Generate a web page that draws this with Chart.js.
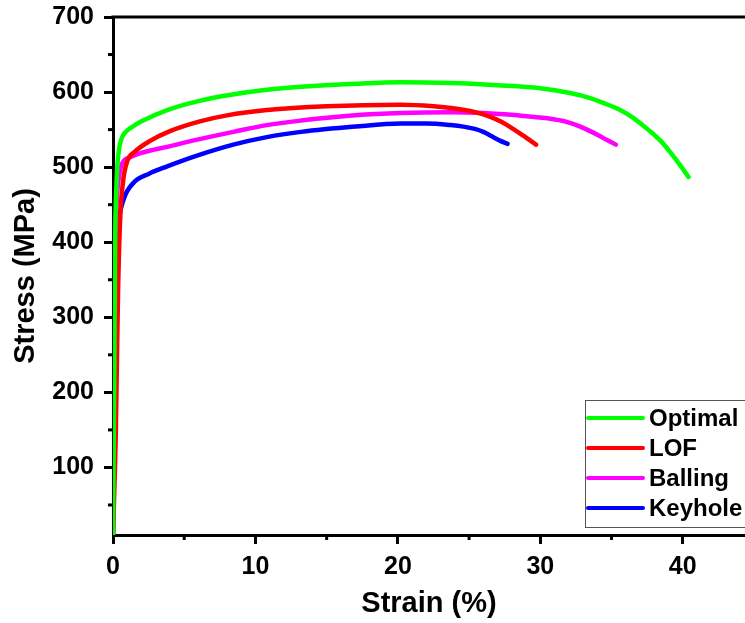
<!DOCTYPE html>
<html>
<head>
<meta charset="utf-8">
<title>Stress-strain curves</title>
<script src="https://cdn.jsdelivr.net/npm/chart.js"></script>
<style>
  html, body { margin: 0; padding: 0; background: #fff; overflow: hidden; }
  #wrap { width: 745px; height: 623px; }
</style>
</head>
<body>
<div id="wrap"><canvas id="ss" width="745" height="623"></canvas></div>
<script>
// ── series ───────────────────────────────────────
const seriesNames  = ['Optimal', 'LOF', 'Balling', 'Keyhole'];
const seriesColors = ['#00ff00', '#ff0000', '#ff00ff', '#0000ff'];

const optimalStrain = [0, 0.08, 0.15, 0.25, 0.4, 0.6, 0.9, 1.3, 2, 3.8, 6, 8.5, 10.8, 13.2, 17, 20.2, 23.7, 27, 30, 32, 33.5, 34.5, 35.5, 36.5, 37.5, 38.5, 39.2, 39.8, 40.4];
const optimalStress = [10, 200, 400, 480, 520, 538, 547, 553, 561, 576, 588, 597, 603, 607, 611, 613, 612, 609, 605, 599, 592, 585, 577, 566, 551, 534, 518, 503, 487];

const lofStrain = [0, 0.2, 0.35, 0.5, 0.7, 1, 1.5, 2.6, 4, 6.1, 8, 10.8, 15, 20.2, 22.5, 24, 25.5, 26.5, 27.3, 28, 28.8, 29.7];
const lofStress = [10, 150, 330, 430, 480, 508, 520, 535, 548, 561, 569, 576, 581, 583, 581, 578, 573, 567, 560, 552, 542, 530];

const ballingStrain = [0, 0.08, 0.15, 0.25, 0.4, 0.6, 1.2, 2, 3.8, 6, 8.45, 10.8, 13.2, 17, 20.2, 23.7, 26, 28.4, 30.5, 31.9, 32.8, 33.5, 34.4, 35.3];
const ballingStress = [10, 200, 380, 450, 485, 503, 513, 519, 527, 537, 547, 556, 562, 569, 572, 573, 572, 569, 565, 560, 554, 548, 539, 530];

const keyholeStrain = [0, 0.12, 0.17, 0.22, 0.35, 0.73, 1.43, 2.5, 3.8, 6, 8.45, 10.8, 13.2, 17, 20.2, 22, 23.7, 24.6, 25.4, 26, 26.6, 27.2, 27.7];
const keyholeStress = [10, 200, 300, 380, 420, 456, 479, 491, 501, 516, 530, 540, 547, 554, 558, 558, 556, 554, 551, 547, 541, 535, 531];

// ── axes ─────────────────────────────────────────
const strainMin = 0, strainMax = 44.37;
const stressMin = 10, stressMax = 700;
const strainTicks = [0, 10, 20, 30, 40];
const strainMinor = [5, 15, 25, 35];
const stressTicks = [100, 200, 300, 400, 500, 600, 700];
const stressMinor = [50, 150, 250, 350, 450, 550, 650];

const strains  = [optimalStrain, lofStrain, ballingStrain, keyholeStrain];
const stresses = [optimalStress, lofStress, ballingStress, keyholeStress];

const FONT = "'Liberation Sans', Arial, sans-serif";
Chart.defaults.font.family = FONT;
Chart.defaults.font.weight = 'bold';
Chart.defaults.color = '#000';

const datasets = seriesNames.map((name, i) => ({
  label: name,
  data: strains[i].map((x, j) => ({ x: x, y: stresses[i][j] })),
  showLine: true,
  borderColor: seriesColors[i],
  backgroundColor: seriesColors[i],
  borderWidth: 4.5,
  pointRadius: 0,
  cubicInterpolationMode: 'monotone',
  borderCapStyle: 'round',
  borderJoinStyle: 'round'
}));

// top frame line, minor ticks and the boxed legend
const framePlugin = {
  id: 'frame',
  afterDraw(chart) {
    const ctx = chart.ctx, a = chart.chartArea;
    const xs = chart.scales.x, ys = chart.scales.y;
    ctx.save();
    ctx.strokeStyle = '#000';
    ctx.lineWidth = 3;
    ctx.beginPath();
    ctx.moveTo(a.left - 1.5, a.top);
    ctx.lineTo(a.right, a.top);
    ctx.stroke();

    strainMinor.forEach(v => {
      const px = xs.getPixelForValue(v);
      ctx.beginPath(); ctx.moveTo(px, a.bottom); ctx.lineTo(px, a.bottom + 5); ctx.stroke();
    });
    stressMinor.forEach(v => {
      const py = ys.getPixelForValue(v);
      ctx.beginPath(); ctx.moveTo(a.left, py); ctx.lineTo(a.left - 5, py); ctx.stroke();
    });

    // legend
    const bx = 585, by = 400, bh = 127;
    ctx.lineWidth = 1;
    ctx.strokeStyle = '#555';
    ctx.fillStyle = '#fff';
    ctx.fillRect(bx, by, a.right - bx + 5, bh);
    ctx.strokeRect(bx + 0.5, by + 0.5, a.right - bx + 5, bh);
    ctx.font = "bold 24px " + FONT;
    ctx.textBaseline = 'middle';
    ctx.textAlign = 'left';
    chart.data.datasets.forEach((ds, i) => {
      const ly = 418 + i * 30;
      ctx.strokeStyle = ds.borderColor;
      ctx.lineWidth = 4;
      ctx.lineCap = 'round';
      ctx.beginPath(); ctx.moveTo(588, ly); ctx.lineTo(643, ly); ctx.stroke();
      ctx.fillStyle = '#000';
      ctx.fillText(ds.label, 649, ly + 1);
    });
    ctx.restore();
  }
};

new Chart(document.getElementById('ss'), {
  type: 'scatter',
  data: { datasets },
  options: {
    responsive: false,
    animation: false,
    devicePixelRatio: 1,
    layout: { padding: { top: 17, right: 0, bottom: 0, left: 0 } },
    plugins: { legend: { display: false }, tooltip: { enabled: false } },
    scales: {
      x: {
        type: 'linear',
        min: strainMin,
        max: strainMax,
        afterBuildTicks: s => { s.ticks = strainTicks.map(v => ({ value: v })); },
        afterFit: s => { s.height = 88; s.paddingLeft = 0; s.paddingRight = 0; },
        ticks: { font: { size: 25, weight: 'bold' }, padding: 8, maxRotation: 0 },
        grid: { drawOnChartArea: false, drawTicks: true, tickLength: 9, tickWidth: 3, tickColor: '#000' },
        border: { display: true, color: '#000', width: 3 },
        title: { display: true, text: 'Strain (%)', font: { size: 29, weight: 'bold' }, padding: { top: 0, bottom: 2 } }
      },
      y: {
        type: 'linear',
        min: stressMin,
        max: stressMax,
        afterBuildTicks: s => { s.ticks = stressTicks.map(v => ({ value: v })); },
        afterFit: s => { s.width = 113; s.paddingTop = 0; s.paddingBottom = 0; },
        ticks: { font: { size: 25, weight: 'bold' }, padding: 10 },
        grid: { drawOnChartArea: false, drawTicks: true, tickLength: 9, tickWidth: 3, tickColor: '#000' },
        border: { display: true, color: '#000', width: 3 },
        title: { display: true, text: 'Stress (MPa)', font: { size: 29, weight: 'bold' }, padding: { top: 9, bottom: 0 } }
      }
    }
  },
  plugins: [framePlugin]
});
</script>
</body>
</html>
